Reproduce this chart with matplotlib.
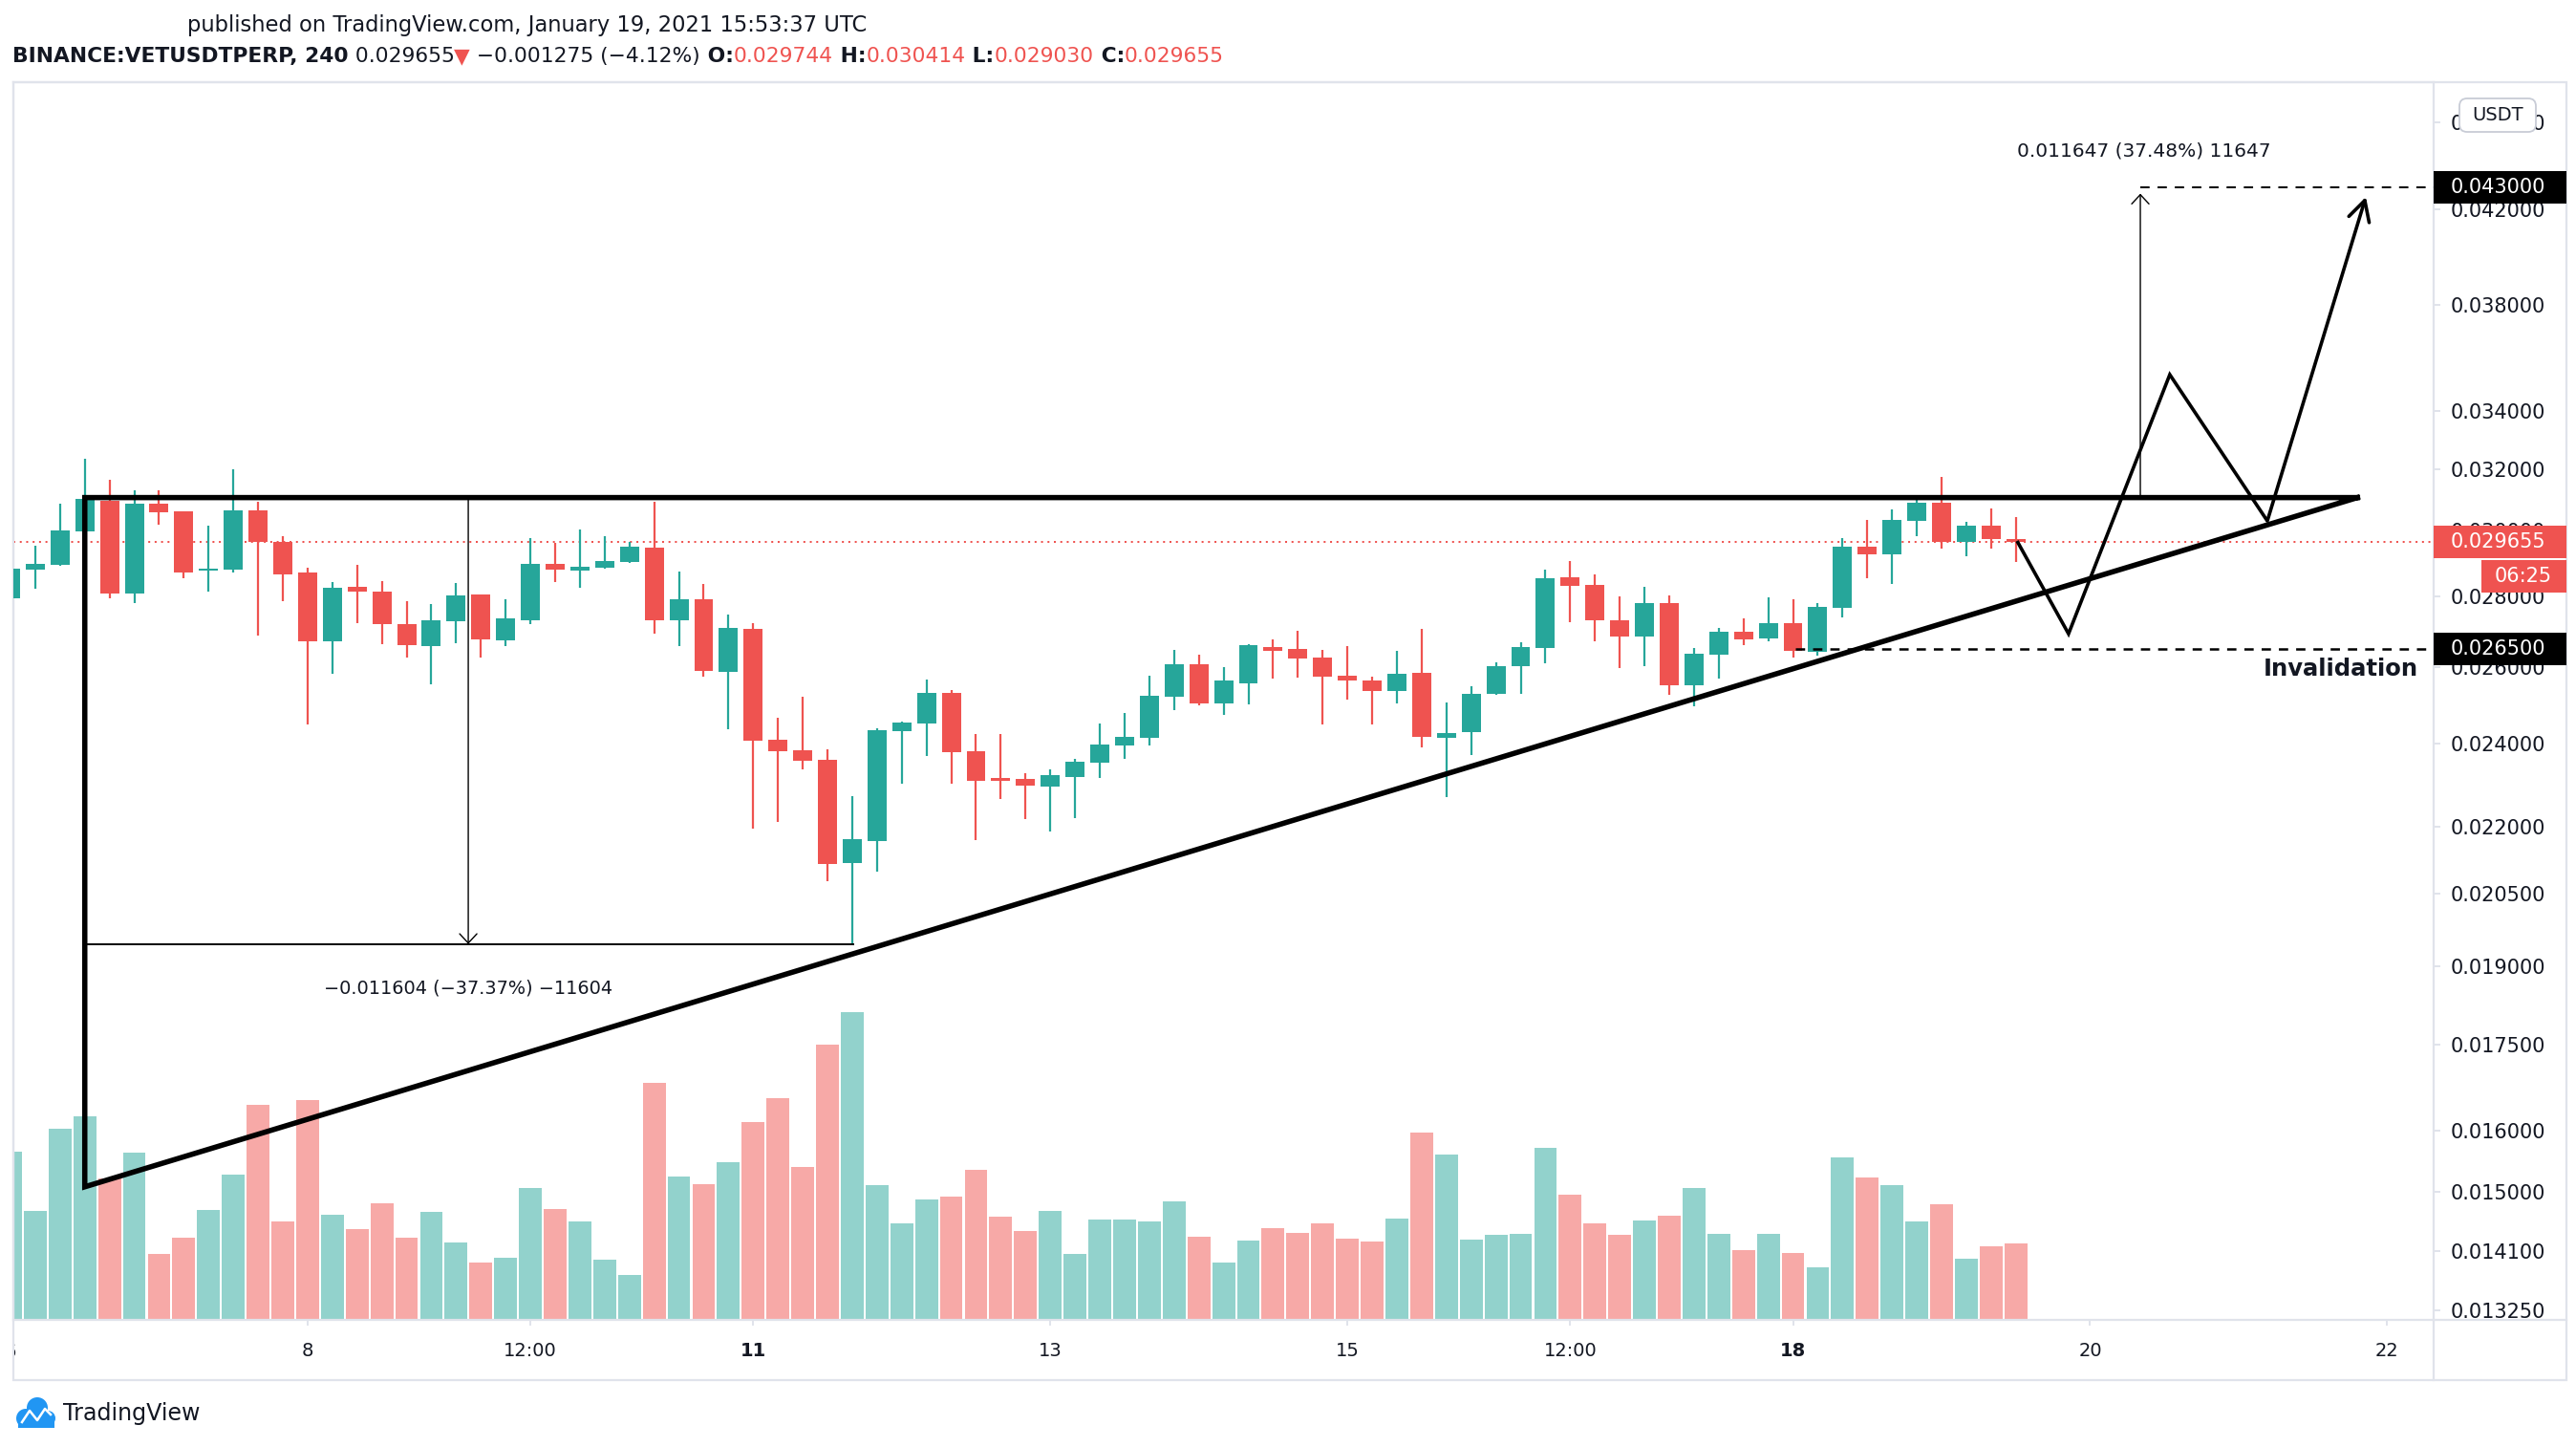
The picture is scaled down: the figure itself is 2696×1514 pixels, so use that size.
import numpy as np
import matplotlib
matplotlib.use('Agg')
import matplotlib.pyplot as plt
from matplotlib.patches import Rectangle, FancyBboxPatch, Circle
from matplotlib.transforms import Bbox, IdentityTransform
import matplotlib.ticker as mticker
from matplotlib.lines import Line2D

plt.rcParams['font.family'] = ['DejaVu Sans']
plt.rcParams['lines.scale_dashes'] = False

# ---------------- data (4h candles, index 0 = 6 Jan 2021 00:00) ----------------
opens = [0.02794, 0.02880, 0.02894, 0.02998, 0.03095, 0.02809, 0.03085, 0.03060, 0.02875, 0.02878,
         0.03063, 0.02964, 0.02870, 0.02672, 0.02828, 0.02814, 0.02720, 0.02658, 0.02727, 0.02806,
         0.02673, 0.02730, 0.02897, 0.02877, 0.02885, 0.02903, 0.02946, 0.02730, 0.02792, 0.02586,
         0.02705, 0.02410, 0.02383, 0.02359, 0.02117, 0.02166, 0.02430, 0.02450, 0.02530, 0.02381,
         0.02314, 0.02312, 0.02294, 0.02317, 0.02352, 0.02395, 0.02414, 0.02520, 0.02607, 0.02503,
         0.02556, 0.02655, 0.02650, 0.02626, 0.02577, 0.02563, 0.02535, 0.02584, 0.02414, 0.02428,
         0.02528, 0.02602, 0.02652, 0.02856, 0.02833, 0.02730, 0.02684, 0.02781, 0.02550, 0.02634,
         0.02697, 0.02679, 0.02722, 0.02642, 0.02767, 0.02949, 0.02926, 0.03030, 0.03089, 0.02964,
         0.03015, 0.029744]
highs = [0.02890, 0.02952, 0.03085, 0.03234, 0.03164, 0.03129, 0.03129, 0.03060, 0.03015, 0.03199,
         0.03090, 0.02982, 0.02885, 0.02842, 0.02894, 0.02845, 0.02786, 0.02778, 0.02839, 0.02806,
         0.02792, 0.02976, 0.02960, 0.03003, 0.02982, 0.02964, 0.03090, 0.02874, 0.02836, 0.02747,
         0.02722, 0.02465, 0.02520, 0.02386, 0.02271, 0.02438, 0.02455, 0.02566, 0.02538, 0.02424,
         0.02424, 0.02326, 0.02336, 0.02361, 0.02450, 0.02478, 0.02577, 0.02647, 0.02634, 0.02599,
         0.02663, 0.02676, 0.02700, 0.02647, 0.02658, 0.02574, 0.02644, 0.02705, 0.02505, 0.02548,
         0.02612, 0.02668, 0.02880, 0.02906, 0.02865, 0.02800, 0.02828, 0.02803, 0.02652, 0.02708,
         0.02736, 0.02797, 0.02792, 0.02781, 0.02976, 0.03033, 0.03066, 0.03098, 0.03173, 0.03027,
         0.03069, 0.030414]
lows = [0.02790, 0.02822, 0.02890, 0.02995, 0.02795, 0.02781, 0.03018, 0.02852, 0.02814, 0.02870,
        0.02687, 0.02786, 0.02449, 0.02581, 0.02722, 0.02663, 0.02625, 0.02553, 0.02666, 0.02625,
        0.02658, 0.02720, 0.02842, 0.02825, 0.02883, 0.02900, 0.02692, 0.02658, 0.02574, 0.02436,
        0.02195, 0.02210, 0.02336, 0.02077, 0.01944, 0.02098, 0.02301, 0.02368, 0.02301, 0.02168,
        0.02264, 0.02217, 0.02188, 0.02220, 0.02314, 0.02361, 0.02395, 0.02486, 0.02498, 0.02473,
        0.02500, 0.02569, 0.02571, 0.02448, 0.02513, 0.02448, 0.02503, 0.02390, 0.02268, 0.02371,
        0.02525, 0.02528, 0.02610, 0.02725, 0.02670, 0.02597, 0.02602, 0.02525, 0.02496, 0.02569,
        0.02660, 0.02670, 0.02626, 0.02631, 0.02739, 0.02853, 0.02836, 0.02982, 0.02943, 0.02920,
        0.02943, 0.029030]
closes = [0.02883, 0.02897, 0.03000, 0.03101, 0.02809, 0.03085, 0.03057, 0.02872, 0.02880, 0.03063,
          0.02964, 0.02866, 0.02672, 0.02825, 0.02814, 0.02720, 0.02660, 0.02730, 0.02803, 0.02676,
          0.02736, 0.02897, 0.02880, 0.02888, 0.02906, 0.02949, 0.02730, 0.02792, 0.02589, 0.02708,
          0.02407, 0.02381, 0.02357, 0.02115, 0.02170, 0.02433, 0.02453, 0.02530, 0.02378, 0.02308,
          0.02308, 0.02296, 0.02321, 0.02354, 0.02397, 0.02417, 0.02523, 0.02607, 0.02503, 0.02563,
          0.02660, 0.02644, 0.02623, 0.02574, 0.02563, 0.02535, 0.02581, 0.02417, 0.02426, 0.02528,
          0.02602, 0.02655, 0.02853, 0.02830, 0.02730, 0.02684, 0.02781, 0.02550, 0.02636, 0.02697,
          0.02676, 0.02722, 0.02644, 0.02770, 0.02949, 0.02926, 0.03033, 0.03089, 0.02964, 0.03015,
          0.02974, 0.029655]
volumes = [528, 342, 600, 639, 443, 525, 207, 258, 345, 456,
           675, 309, 690, 330, 285, 366, 258, 339, 243, 180,
           195, 414, 348, 309, 189, 141, 744, 450, 426, 495,
           621, 696, 480, 864, 966, 423, 303, 378, 387, 471,
           324, 279, 342, 207, 315, 315, 309, 372, 261, 180,
           249, 288, 273, 303, 255, 246, 318, 588, 519, 252,
           267, 270, 540, 393, 303, 267, 312, 327, 414, 270,
           219, 270, 210, 165, 510, 447, 423, 309, 363, 192,
           231, 240]

date_tick_pos = [12, 21, 30, 42, 54, 63, 72, 84, 96]
date_tick_labels = ['8', '12:00', '11', '13', '15', '12:00', '18', '20', '22']
bold_date_labels = ['11', '18']
price_ticks = [0.046, 0.042, 0.038, 0.034, 0.032, 0.030, 0.028, 0.026, 0.024,
               0.022, 0.0205, 0.019, 0.0175, 0.016, 0.015, 0.0141, 0.01325]

last_price = 0.029655
resistance = 0.03105
tri_start_i = 3.0
tri_low = 0.01508
apex_i = 94.8
meas_low = 0.019448
meas_left_i0, meas_left_i1, meas_left_arrow_i = 3.0, 34.04, 18.49
meas_right_i = 86.03
meas_target = 0.042695
target_level = 0.043
invalidation = 0.0265
invalidation_i = 72.1
proj_x = [81.05, 83.13, 87.22, 91.16, 95.14]
proj_y = [0.02967, 0.02692, 0.03532, 0.03030, 0.04255]

# ---------------- styling ----------------
GREEN = '#26a69a'
RED = '#ef5350'
VOL_GREEN = '#92d2cc'
VOL_RED = '#f7a9a7'
TEXT = '#131722'
GRID = '#e0e3eb'

W, H, DPI = 2696, 1514, 100
PL, PR, PT, PB = 14, 2547, 86, 1381      # plot area in pixels (top-origin)
X0, DX = 11.0, 25.91                     # candle index -> pixel
Y_REF, P_REF, K = 219.0, 0.042, 998.5    # log price calibration

fig = plt.figure(figsize=(W / DPI, H / DPI), dpi=DPI)
fig.patch.set_facecolor('white')
rect = [PL / W, 1 - PB / H, (PR - PL) / W, (PB - PT) / H]

xlim = ((PL - X0) / DX, (PR - X0) / DX)
ylim = (P_REF * np.exp(-(PB - Y_REF) / K), P_REF * np.exp((Y_REF - PT) / K))

o = np.array(opens); h = np.array(highs); l = np.array(lows); c = np.array(closes)
v = np.array(volumes, dtype=float)
idx = np.arange(len(o))
up = c >= o
cols = np.where(up, GREEN, RED)
vcols = np.where(up, VOL_GREEN, VOL_RED)

# volume axis (behind)
axv = fig.add_axes(rect)
axv.bar(idx, v, width=0.92, color=vcols, linewidth=0)
axv.set_xlim(*xlim)
axv.set_ylim(0, v.max() * (PB - PT) / 322.0)
axv.axis('off')

# price axis
ax = fig.add_axes(rect)
ax.set_zorder(2)
ax.patch.set_visible(False)
ax.set_yscale('log')
ax.set_xlim(*xlim)
ax.set_ylim(*ylim)

ax.vlines(idx, l, h, colors=cols, linewidth=1.6, zorder=3)
body_bottom = np.minimum(o, c)
body_h = np.maximum(np.abs(c - o), body_bottom * 0.0022)
ax.bar(idx, body_h, bottom=body_bottom, width=0.77, color=cols, linewidth=0, zorder=4)

# current price dotted line
ax.axhline(last_price, color=RED, linewidth=1.44, dashes=(1.44, 3.4), zorder=2)

# triangle
ax.plot([apex_i, tri_start_i, tri_start_i, apex_i],
        [resistance, resistance, tri_low, resistance],
        color='black', linewidth=4.0, solid_joinstyle='miter', zorder=6)

# left price-range measurement
ax.plot([meas_left_i0, meas_left_i1], [meas_low, meas_low], color='black', linewidth=1.4, zorder=5)
ax.annotate('', xy=(meas_left_arrow_i, meas_low), xytext=(meas_left_arrow_i, resistance),
            arrowprops=dict(arrowstyle='->,head_length=7,head_width=6.5', mutation_scale=1,
                            lw=1.0, color='black', shrinkA=0, shrinkB=0), zorder=5)
# right price-range measurement
ax.annotate('', xy=(meas_right_i, meas_target), xytext=(meas_right_i, resistance),
            arrowprops=dict(arrowstyle='->,head_length=7,head_width=6.5', mutation_scale=1,
                            lw=1.0, color='black', shrinkA=0, shrinkB=0), zorder=5)
ax.plot([meas_right_i, xlim[1]], [target_level, target_level], color='black',
        linewidth=1.44, dashes=(7, 6), zorder=5)
# invalidation
ax.plot([invalidation_i, xlim[1]], [invalidation, invalidation], color='black',
        linewidth=1.8, dashes=(7, 6), zorder=5)

# projected path
ax.plot(proj_x[:-1], proj_y[:-1], color='black', linewidth=2.6, solid_joinstyle='miter',
        solid_capstyle='butt', zorder=7)
ax.annotate('', xy=(proj_x[-1], proj_y[-1]), xytext=(proj_x[-2], proj_y[-2]),
            arrowprops=dict(arrowstyle='->,head_length=15,head_width=8', mutation_scale=1,
                            lw=2.6, color='black', shrinkA=0, shrinkB=0), zorder=7)

# axes decoration
for sp in ax.spines.values():
    sp.set_color(GRID)
    sp.set_linewidth(1.6)
ax.yaxis.tick_right()
ax.yaxis.set_minor_locator(mticker.NullLocator())
ax.set_yticks(price_ticks)
ax.set_yticklabels(['%.6f' % p for p in price_ticks])
ax.yaxis.set_minor_formatter(mticker.NullFormatter())
ax.tick_params(axis='y', which='major', length=5, width=1.4, color=GRID, pad=8,
               labelsize=15, labelcolor=TEXT)
ax.set_xticks(date_tick_pos)
ax.set_xticklabels(date_tick_labels)
ax.tick_params(axis='x', length=4.5, width=1.4, color=GRID, pad=12, labelsize=14, labelcolor=TEXT)
for t in ax.get_xticklabels():
    if t.get_text() in bold_date_labels:
        t.set_fontweight('bold')

fig.canvas.draw()
r = fig.canvas.get_renderer()

def fit_text(s, x, yc, target_w, weight='normal', color=TEXT, ha='left', base=14):
    t = fig.text(0, 0, s, fontsize=base, weight=weight)
    w = t.get_window_extent(r).width
    t.remove()
    fs = base * target_w / w
    return fig.text(x / W, 1 - yc / H, s, fontsize=fs, weight=weight, color=color,
                    ha=ha, va='center', zorder=8)

def fit_segments(segs, x0, yc, target_w, base=14):
    total = 0
    for s, wt, col in segs:
        t = fig.text(0, 0, s, fontsize=base, weight=wt)
        total += t.get_window_extent(r).width
        t.remove()
    fs = base * target_w / total
    x = x0
    for s, wt, col in segs:
        t = fig.text(x / W, 1 - yc / H, s, fontsize=fs, weight=wt, color=col, ha='left', va='center')
        x = t.get_window_extent(r).x1

# header
fit_text('published on TradingView.com, January 19, 2021 15:53:37 UTC', 196, 26, 713)
fit_segments([('BINANCE:VETUSDTPERP, 240', 'bold', TEXT),
              (' 0.029655', 'normal', TEXT),
              ('\u25bc', 'normal', RED),
              (' \u22120.001275 (\u22124.12%)', 'normal', TEXT),
              (' O:', 'bold', TEXT), ('0.029744', 'normal', RED),
              (' H:', 'bold', TEXT), ('0.030414', 'normal', RED),
              (' L:', 'bold', TEXT), ('0.029030', 'normal', RED),
              (' C:', 'bold', TEXT), ('0.029655', 'normal', RED)], 13, 59, 1262)

# measurement labels
fit_text('\u22120.011604 (\u221237.37%) \u221211604', 490, 1034, 303, ha='center')
fit_text('0.011647 (37.48%) 11647', 2244, 158, 265, ha='center')
fit_text('Invalidation', 2531, 700, 163, weight='bold', ha='right')

# outer frame
fig.add_artist(Rectangle((PL, H - 1444), 2686 - PL, 1444 - PT, transform=IdentityTransform(),
                         fill=False, ec=GRID, lw=1.6, zorder=1))
fig.add_artist(Line2D([PR, PR], [H - PB, H - 1444], transform=IdentityTransform(), color=GRID, lw=1.6))
fig.add_artist(Line2D([PR, 2686], [H - PB, H - PB], transform=IdentityTransform(), color=GRID, lw=1.6))

def ydisp(p):
    return ax.transData.transform((1, p))[1]

def price_tag(p, s, fc):
    yd = ydisp(p)
    fig.add_artist(Rectangle((PR, yd - 17), 2686 - PR, 34, transform=IdentityTransform(),
                             fc=fc, ec='none', zorder=6))
    fig.text(2565 / W, yd / H, s, color='white', fontsize=15, ha='left', va='center', zorder=7)

price_tag(target_level, '0.043000', 'black')
price_tag(invalidation, '0.026500', 'black')
price_tag(last_price, '0.029655', RED)
yd = ydisp(last_price)
fig.add_artist(Rectangle((2597, yd - 17 - 2 - 34), 2686 - 2597, 34, transform=IdentityTransform(),
                         fc=RED, ec='none', zorder=6))
fig.text(2641 / W, (yd - 36) / H, '06:25', color='white', fontsize=15, ha='center', va='center', zorder=7)

# USDT badge
fig.add_artist(FancyBboxPatch((2574, H - 138), 80, 35, boxstyle='round,pad=0,rounding_size=8',
                              transform=IdentityTransform(), fc='white', ec='#c8ccd6', lw=1.3, zorder=6))
fig.text(2614 / W, 1 - 121 / H, 'USDT', color=TEXT, fontsize=14, ha='center', va='center', zorder=7)

# clipped first date label
t6 = fig.text(X0 / W, 1 - 1415 / H, '6', color=TEXT, fontsize=14, ha='center', va='center')
t6.set_clip_box(Bbox.from_extents(PL + 1, 0, W, H))
t6.set_clip_on(True)

# TradingView logo
LB = '#2196f3'
for (cx, cy, rr) in [(27, 1484, 10), (39, 1473, 11), (50, 1484, 8)]:
    fig.add_artist(Circle((cx, H - cy), rr, transform=IdentityTransform(), fc=LB, ec='none'))
fig.add_artist(Rectangle((19, H - 1494), 38, 10, transform=IdentityTransform(), fc=LB, ec='none'))
fig.add_artist(Line2D([23, 31, 39, 47, 53], [H - 1488, H - 1476, H - 1486, H - 1474, H - 1480],
                      transform=IdentityTransform(), color='white', lw=1.8))
fit_text('TradingView', 66, 1479, 144)

fig.savefig('out.png', dpi=DPI, facecolor='white')
